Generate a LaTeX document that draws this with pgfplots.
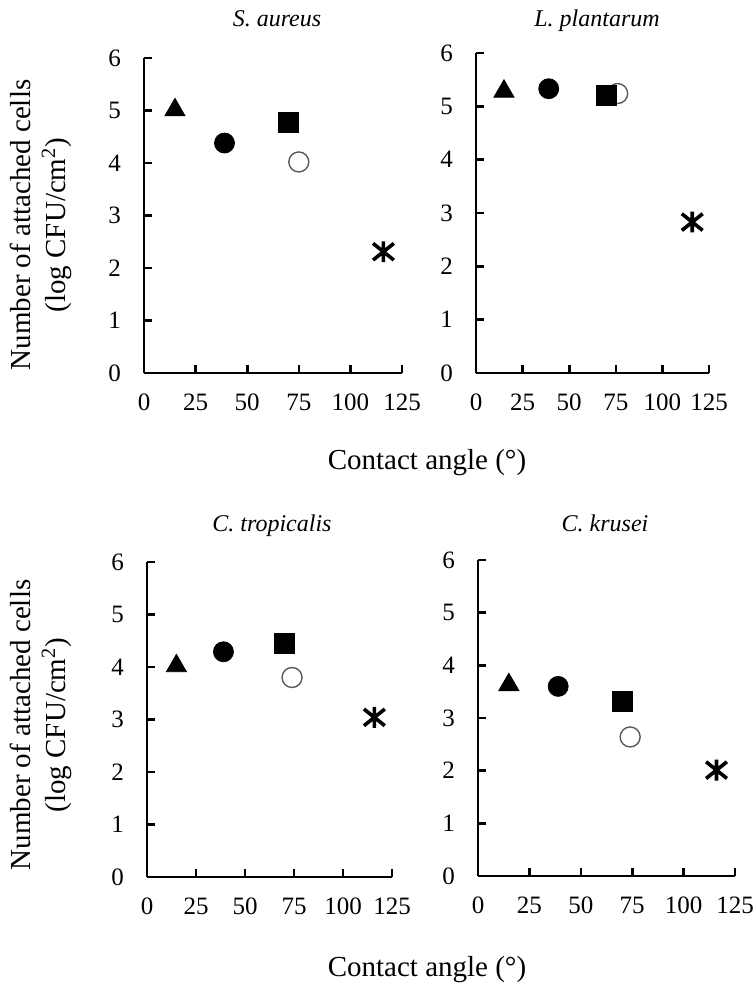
\documentclass[border=0pt]{standalone}
\usepackage{pgfplots}
\pgfplotsset{compat=1.18}
\usepackage{fontspec}
\setmainfont{Liberation Serif}
\pgfdeclareplotmark{xast}{%
 \pgfpathmoveto{\pgfqpoint{0pt}{-\pgfplotmarksize}}%
 \pgfpathlineto{\pgfqpoint{0pt}{\pgfplotmarksize}}%
 \pgfpathmoveto{\pgfqpoint{-\pgfplotmarksize}{-0.8\pgfplotmarksize}}%
 \pgfpathlineto{\pgfqpoint{\pgfplotmarksize}{0.8\pgfplotmarksize}}%
 \pgfpathmoveto{\pgfqpoint{-\pgfplotmarksize}{0.8\pgfplotmarksize}}%
 \pgfpathlineto{\pgfqpoint{\pgfplotmarksize}{-0.8\pgfplotmarksize}}%
 \pgfusepathqstroke}
\pgfplotsset{
 panel/.style={
  scale only axis, anchor=south west,
  axis lines*=left, axis line style={line width=1.3pt,-},
  xmin=0,xmax=125,ymin=0,ymax=6,
  xtick={0,25,50,75,100,125}, ytick={0,1,2,3,4,5,6},
  tick align=inside, major tick length=4pt,
  every tick/.style={line width=1.3pt,black},
  clip=false,
  /pgf/number format/assume math mode=true,
  xticklabel style={font=\fontsize{12.5}{14}\selectfont, yshift=-7pt},
  yticklabel style={font=\fontsize{12.5}{14}\selectfont, xshift=-8pt},
 },
 tri/.style={only marks, mark=triangle*, mark size=5.8pt, black},
 fc/.style={only marks, mark=*, mark size=5pt, black},
 sq/.style={only marks, mark=square*, mark size=5pt, black},
 oc/.style={only marks, mark=*, mark size=5pt, mark options={draw=black!65, fill=white, line width=0.7pt}},
 ast/.style={only marks, mark=xast, mark size=5.2pt, mark options={line width=1.8pt, black}},
}
\begin{document}
\begin{tikzpicture}
\useasboundingbox (0,0) rectangle (376.5pt,491.5pt);
% S. aureus
\begin{axis}[panel, at={(72pt,305pt)}, width=129pt, height=157.5pt]
\addplot[tri] coordinates {(15,5.01)};
\addplot[fc] coordinates {(39,4.38)};
\addplot[oc] coordinates {(75,4.02)};
\addplot[sq] coordinates {(70,4.78)};
\addplot[ast] coordinates {(116,2.31)};
\end{axis}
% L. plantarum
\begin{axis}[panel, at={(238pt,305pt)}, width=116.5pt, height=160pt]
\addplot[tri] coordinates {(15,5.28)};
\addplot[fc] coordinates {(39,5.33)};
\addplot[oc] coordinates {(76,5.24)};
\addplot[sq] coordinates {(70,5.2)};
\addplot[ast] coordinates {(116,2.83)};
\end{axis}
% C. tropicalis
\begin{axis}[panel, at={(73.5pt,53pt)}, width=122.5pt, height=157.5pt]
\addplot[tri] coordinates {(15,4.02)};
\addplot[fc] coordinates {(39,4.29)};
\addplot[oc] coordinates {(74,3.8)};
\addplot[sq] coordinates {(70,4.44)};
\addplot[ast] coordinates {(116,3.04)};
\end{axis}
% C. krusei
\begin{axis}[panel, at={(239pt,53.5pt)}, width=128.5pt, height=158pt]
\addplot[tri] coordinates {(15,3.63)};
\addplot[fc] coordinates {(39,3.6)};
\addplot[oc] coordinates {(74,2.64)};
\addplot[sq] coordinates {(70,3.31)};
\addplot[ast] coordinates {(116,2.01)};
\end{axis}
% titles
\node[anchor=base, font=\fontsize{12}{14}\selectfont\itshape] at (138.5pt,478pt) {S. aureus};
\node[anchor=base, font=\fontsize{12}{14}\selectfont\itshape] at (298.5pt,478pt) {L. plantarum};
\node[anchor=base, font=\fontsize{12}{14}\selectfont\itshape] at (136pt,225.5pt) {C. tropicalis};
\node[anchor=base, font=\fontsize{12}{14}\selectfont\itshape] at (302.5pt,225.5pt) {C. krusei};
% x labels
\node[anchor=base, font=\fontsize{14.5}{17}\selectfont] at (213.5pt,256.5pt) {Contact angle (°)};
\node[anchor=base, font=\fontsize{14.5}{17}\selectfont] at (213.5pt,3pt) {Contact angle (°)};
% y labels
\node[rotate=90, align=center, inner sep=0pt, font=\fontsize{14.5}{17.5}\selectfont] at (20.5pt,379pt) {Number of attached cells\\(log CFU/cm\textsuperscript{2})};
\node[rotate=90, align=center, inner sep=0pt, font=\fontsize{14.5}{17.5}\selectfont] at (20.5pt,129pt) {Number of attached cells\\(log CFU/cm\textsuperscript{2})};
\end{tikzpicture}
\end{document}
